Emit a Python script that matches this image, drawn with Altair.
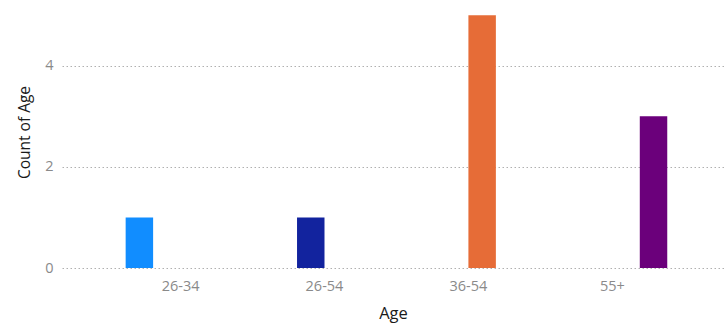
import altair as alt
import pandas as pd

ages = ["26-34", "26-54", "36-54", "55+"]
counts = [1, 1, 5, 3]
colors = ["#118DFF", "#12239E", "#E66C37", "#6B007B"]

df = pd.DataFrame({"Age": ages, "Count": counts})

FONT = "Open Sans"

chart = alt.Chart(df).mark_bar().encode(
    x=alt.X("Age:N", sort=ages, title="Age",
            scale=alt.Scale(paddingInner=0, paddingOuter=0.3, align=0.54),
            axis=alt.Axis(labelAngle=0, ticks=False, domain=False, grid=False,
                          labelColor="#8a8a8a", labelFontSize=14.5, labelFont=FONT,
                          labelPadding=11, titleColor="#1a1a1a", titleFontSize=16.5,
                          titleFont=FONT, titleFontWeight="normal",
                          titleY=45, titleBaseline="middle")),
    xOffset=alt.XOffset("Age:N", sort=ages,
                        scale=alt.Scale(paddingInner=0, paddingOuter=0.62)),
    y=alt.Y("Count:Q", title="Count of Age",
            scale=alt.Scale(domain=[0, 5.3], nice=False),
            axis=alt.Axis(values=[0, 2, 4], ticks=False, domain=False, grid=True,
                          gridColor="#b0b0b0", gridDash=[1.5, 2.5], gridWidth=1,
                          labelColor="#8a8a8a", labelFontSize=14.5, labelFont=FONT,
                          labelPadding=9, titleColor="#1a1a1a", titleFontSize=15.5,
                          titleFont=FONT, titleFontWeight="normal",
                          titleX=-38, titleY=132, titleAngle=-90,
                          titleBaseline="middle", titleAlign="center")),
    color=alt.Color("Age:N", sort=ages,
                    scale=alt.Scale(domain=ages, range=colors), legend=None),
).properties(
    width=662, height=268,
    autosize=alt.AutoSizeParams(type="none"),
    padding={"left": 62, "top": 0, "right": 0, "bottom": 60},
).configure_view(stroke=None)

chart.save("out.html", embed_options={"renderer": "svg", "actions": False})
